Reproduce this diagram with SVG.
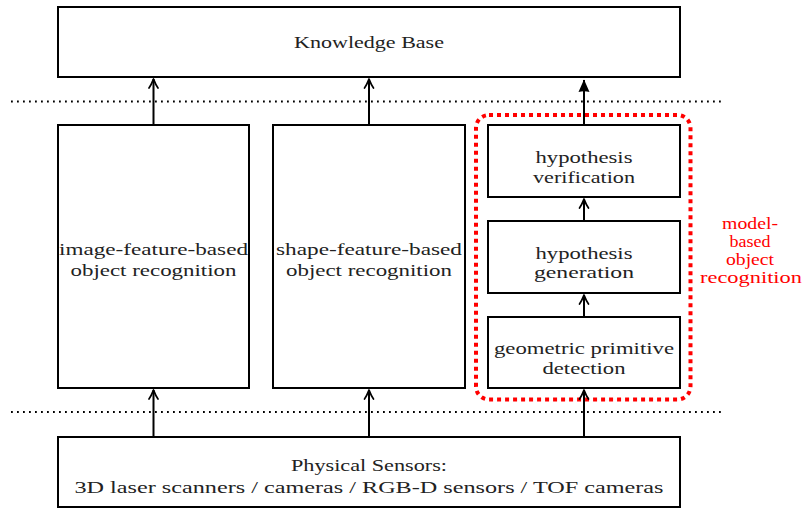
<svg xmlns="http://www.w3.org/2000/svg" width="804" height="510" viewBox="0 0 804 510">
<defs>
<style>
.box{fill:#fff;stroke:#000;stroke-width:2}
.t{fill:#222;text-anchor:middle}
.r{fill:#f00;text-anchor:middle}
.ln{stroke:#000;stroke-width:2;fill:none}
.dot{stroke:#000;stroke-width:1.8;stroke-dasharray:1.8 4.2;fill:none}
</style>
<marker id="open" viewBox="-12 -6 14 12" refX="0" refY="0" markerWidth="14" markerHeight="12" markerUnits="userSpaceOnUse" orient="auto">
<path d="M -9,-4.5 C -5.5,-2 -1.5,-0.6 0,0 C -1.5,0.6 -5.5,2 -9,4.5" fill="none" stroke="#000" stroke-width="1.7" stroke-linecap="round" stroke-linejoin="round"/>
</marker>
<marker id="latex" viewBox="-14 -7 16 14" refX="0" refY="0" markerWidth="16" markerHeight="14" markerUnits="userSpaceOnUse" orient="auto">
<path d="M 0.5,0 L -12,-5.5 Q -10.5,0 -12,5.5 Z" fill="#000"/>
</marker>
</defs>
<rect width="804" height="510" fill="#fff"/>
<g id="separators">
<line class="dot" x1="11" y1="101.5" x2="724" y2="101.5"/>
<line class="dot" x1="11" y1="412" x2="724" y2="412"/>
</g>
<g id="model-group" font-family="'Liberation Serif', serif" font-size="16">
<rect x="476" y="115" width="214.5" height="284.5" rx="13" fill="none" stroke="#f00" stroke-width="4" stroke-dasharray="4 4"/>
<text class="r" x="750" y="229" textLength="56" lengthAdjust="spacingAndGlyphs">model-</text>
<text class="r" x="750" y="247" textLength="41" lengthAdjust="spacingAndGlyphs">based</text>
<text class="r" x="750" y="265" textLength="48" lengthAdjust="spacingAndGlyphs">object</text>
<text class="r" x="751" y="283" textLength="102" lengthAdjust="spacingAndGlyphs">recognition</text>
</g>
<g font-family="Liberation Serif" font-size="17.5">
<g id="kb">
<rect class="box" x="58" y="7" width="622" height="70"/>
<text class="t" x="369" y="47.5" textLength="150" lengthAdjust="spacingAndGlyphs">Knowledge Base</text>
</g>
<g id="image-feature">
<rect class="box" x="58" y="125" width="191" height="263"/>
<text class="t" x="153.5" y="255" textLength="189" lengthAdjust="spacingAndGlyphs">image-feature-based</text>
<text class="t" x="153.5" y="276" textLength="166" lengthAdjust="spacingAndGlyphs">object recognition</text>
</g>
<g id="shape-feature">
<rect class="box" x="273" y="125" width="192" height="263"/>
<text class="t" x="369" y="255" textLength="186" lengthAdjust="spacingAndGlyphs">shape-feature-based</text>
<text class="t" x="369" y="276" textLength="166" lengthAdjust="spacingAndGlyphs">object recognition</text>
</g>
<g id="verification">
<rect class="box" x="488" y="125" width="192" height="72"/>
<text class="t" x="584" y="163" textLength="97" lengthAdjust="spacingAndGlyphs">hypothesis</text>
<text class="t" x="584" y="183" textLength="102" lengthAdjust="spacingAndGlyphs">verification</text>
</g>
<g id="generation">
<rect class="box" x="488" y="221" width="192" height="72"/>
<text class="t" x="584" y="259" textLength="97" lengthAdjust="spacingAndGlyphs">hypothesis</text>
<text class="t" x="584" y="278" textLength="100" lengthAdjust="spacingAndGlyphs">generation</text>
</g>
<g id="detection">
<rect class="box" x="488" y="317" width="192" height="71"/>
<text class="t" x="584" y="354" textLength="180" lengthAdjust="spacingAndGlyphs">geometric primitive</text>
<text class="t" x="584" y="374" textLength="83" lengthAdjust="spacingAndGlyphs">detection</text>
</g>
<g id="sensors">
<rect class="box" x="58" y="437" width="622" height="70"/>
<text class="t" x="369" y="471" textLength="156" lengthAdjust="spacingAndGlyphs">Physical Sensors:</text>
<text class="t" x="369" y="493" textLength="589" lengthAdjust="spacingAndGlyphs">3D laser scanners / cameras / RGB-D sensors / TOF cameras</text>
</g>
</g>
<g id="connectors">
<line class="ln" x1="153.5" y1="125" x2="153.5" y2="79" marker-end="url(#open)"/>
<line class="ln" x1="369" y1="125" x2="369" y2="79" marker-end="url(#open)"/>
<line class="ln" x1="584" y1="125" x2="584" y2="80" marker-end="url(#latex)"/>
<line class="ln" x1="584" y1="221" x2="584" y2="199" marker-end="url(#open)"/>
<line class="ln" x1="584" y1="317" x2="584" y2="295" marker-end="url(#open)"/>
<line class="ln" x1="153.5" y1="437" x2="153.5" y2="390" marker-end="url(#open)"/>
<line class="ln" x1="369" y1="437" x2="369" y2="390" marker-end="url(#open)"/>
<line class="ln" x1="584" y1="437" x2="584" y2="390" marker-end="url(#open)"/>
</g>
</svg>
